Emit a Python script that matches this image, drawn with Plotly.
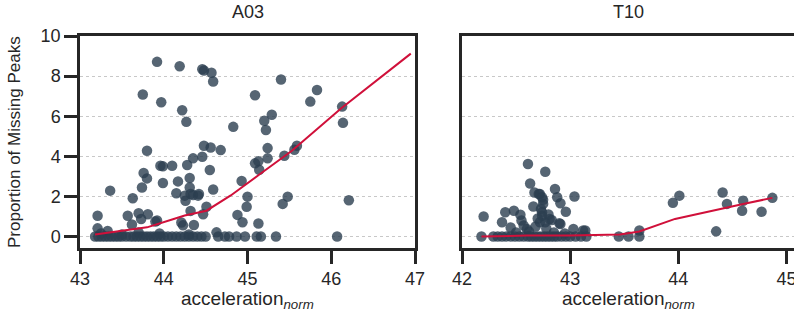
import plotly.graph_objects as go

# ---------------- data ----------------
a03_x = [43.92, 44.19, 44.46, 44.48, 44.57, 44.59, 43.75, 43.97, 44.22, 44.27, 44.83, 45.09,
         43.80, 44.48, 44.56, 44.68, 44.46, 44.35, 43.96, 43.99, 44.10, 44.28, 43.76, 43.80,
         43.99, 44.17, 44.31, 44.55, 44.59, 43.74, 43.36, 44.15, 44.31, 44.25, 44.35, 44.41,
         44.32, 44.42, 43.63, 44.26, 44.51, 44.32, 44.47, 43.21, 43.57, 43.70, 43.81, 43.73,
         43.90, 44.21, 44.23, 44.36, 43.62, 43.21, 43.33, 44.88, 44.94, 44.93, 45.00, 44.99,
         45.13, 45.09, 44.63, 45.40, 45.83, 45.75, 46.13, 46.14, 45.29, 45.20, 45.22, 45.24,
         45.59, 45.56, 45.44, 45.24, 45.13, 45.14, 45.48, 45.42, 46.21, 43.92,
         43.25, 43.50, 43.70, 43.95, 44.30,
         43.18, 43.22, 43.26, 43.30, 43.34, 43.38, 43.42, 43.46, 43.50, 43.55, 43.60, 43.64,
         43.68, 43.72, 43.76, 43.80, 43.84, 43.88, 43.92, 43.96, 44.00, 44.05, 44.10, 44.15,
         44.20, 44.25, 44.30, 44.35, 44.40, 44.45, 44.50, 44.65, 44.73, 44.78, 44.87, 44.97,
         45.11, 45.16, 45.34, 46.07]
a03_y = [8.71, 8.49, 8.34, 8.28, 8.17, 7.73, 7.08, 6.70, 6.30, 5.72, 5.47, 7.05,
         4.28, 4.53, 4.44, 4.31, 3.98, 3.90, 3.53, 3.50, 3.53, 3.57, 3.17, 2.90,
         2.67, 2.75, 2.92, 3.32, 2.35, 2.45, 2.29, 2.16, 2.45, 2.04, 2.07, 2.04,
         2.12, 2.12, 1.91, 1.79, 1.49, 1.28, 1.11, 1.04, 1.04, 1.16, 1.11, 0.88,
         0.75, 0.70, 0.56, 0.58, 0.60, 0.41, 0.28, 1.08, 0.71, 2.77, 1.99, 1.49,
         0.65, 3.65, 0.21, 7.83, 7.31, 6.73, 6.48, 5.67, 6.07, 5.77, 5.31, 4.41,
         4.53, 4.33, 4.03, 3.90, 3.75, 3.33, 1.99, 1.63, 1.81, 0.80,
         0.15, 0.10, 0.20, 0.15, 0.10,
         0, 0, 0, 0, 0, 0, 0, 0, 0, 0, 0, 0,
         0, 0, 0, 0, 0, 0, 0, 0, 0, 0, 0, 0,
         0, 0, 0, 0, 0, 0, 0, 0, 0, 0, 0, 0,
         0, 0, 0, 0]
a03_fit_x = [43.18, 43.50, 43.80, 44.10, 44.25, 44.51, 44.80, 45.15, 45.53, 46.12, 46.95]
a03_fit_y = [0.10, 0.27, 0.46, 0.85, 1.05, 1.29, 2.05, 3.12, 4.28, 6.40, 9.12]

t10_x = [42.18, 42.20, 42.61, 42.77, 42.63, 42.67, 42.72, 42.75, 42.86, 42.88, 42.91, 43.04,
         42.96, 42.40, 42.48, 42.54, 42.37, 42.55, 42.73, 42.74, 42.77, 42.83, 42.91, 43.03,
         43.14, 42.71, 42.74, 42.75, 42.74, 42.81, 42.72, 42.90, 42.57, 42.60, 43.12,
         42.68, 42.70, 42.78, 42.66, 42.80, 42.62, 42.85, 42.50, 42.45, 42.95,
         42.29, 42.33, 42.37, 42.41, 42.45, 42.49, 42.53, 42.57, 42.61, 42.64, 42.67, 42.70,
         42.73, 42.76, 42.79, 42.82, 42.85, 42.88, 42.92, 42.96, 43.00, 43.05, 43.10, 43.15,
         43.45, 43.54, 43.64, 43.64, 43.95, 44.01, 44.35, 44.41, 44.45, 44.60, 44.59, 44.77,
         44.87]
t10_y = [0, 1.00, 3.62, 3.23, 2.65, 2.20, 2.12, 1.83, 2.37, 1.96, 1.66, 2.00,
         1.24, 1.21, 1.29, 1.09, 0.71, 0.80, 1.38, 1.04, 0.71, 0.83, 0.63, 0.38,
         0.30, 2.12, 1.96, 1.63, 1.21, 0.88, 0.71, 0.66, 0.55, 0.38, 0.30,
         0.50, 0.90, 0.40, 1.50, 1.10, 0.25, 0.20, 0.20, 0.45, 0.15,
         0, 0, 0, 0, 0, 0, 0, 0, 0, 0, 0, 0,
         0, 0, 0, 0, 0, 0, 0, 0, 0, 0, 0, 0,
         0, 0, 0, 0.30, 1.68, 2.04, 0.26, 2.20, 1.63, 1.79, 1.29, 1.24,
         1.93]
t10_fit_x = [42.18, 42.60, 43.00, 43.46, 43.64, 43.97, 44.60, 44.87]
t10_fit_y = [0.00, 0.05, 0.05, 0.10, 0.25, 0.88, 1.62, 1.93]

panel_titles = ["A03", "T10"]
a03_ticks = [43, 44, 45, 46, 47]
t10_ticks = [42, 43, 44, 45]
y_ticks = [0, 2, 4, 6, 8, 10]

# ---------------- figure ----------------
FONT = "Liberation Sans, Arial, sans-serif"
DARK = "#262626"
PT = "rgba(44,62,80,0.8)"
LINE = "#d0103a"

fig = go.Figure()
fig.add_trace(go.Scatter(x=a03_x, y=a03_y, mode="markers",
                         marker=dict(size=10.5, color=PT, line=dict(width=0)),
                         xaxis="x", yaxis="y", showlegend=False))
fig.add_trace(go.Scatter(x=a03_fit_x, y=a03_fit_y, mode="lines",
                         line=dict(color=LINE, width=2),
                         xaxis="x", yaxis="y", showlegend=False))
fig.add_trace(go.Scatter(x=t10_x, y=t10_y, mode="markers",
                         marker=dict(size=10.5, color=PT, line=dict(width=0)),
                         xaxis="x2", yaxis="y2", showlegend=False))
fig.add_trace(go.Scatter(x=t10_fit_x, y=t10_fit_y, mode="lines",
                         line=dict(color=LINE, width=2),
                         xaxis="x2", yaxis="y2", showlegend=False))

W, H = 794, 321
L, R, T, B = 80, 0, 36, 73
pw = W - L - R
ph = H - T - B
d1 = [0, (415 - L) / pw]
d2 = [(462 - L) / pw, 1.0]

axis_common = dict(showline=True, linewidth=2.5, linecolor=DARK,
                   ticks="outside", ticklen=13, tickwidth=2.5, tickcolor=DARK,
                   tickfont=dict(family=FONT, size=18, color=DARK),
                   zeroline=False, automargin=False, ticklabeloverflow="allow")

fig.update_layout(
    width=W, height=H,
    margin=dict(l=L, r=R, t=T, b=B, autoexpand=False),
    paper_bgcolor="white", plot_bgcolor="white",
    font=dict(family=FONT, color=DARK),
    xaxis=dict(domain=d1, range=[43, 47], tickvals=a03_ticks, showgrid=False,
               mirror=True, anchor="y", **axis_common),
    yaxis=dict(domain=[0, 1], range=[-0.57, 10], tickvals=y_ticks,
               showgrid=True, gridcolor="#c8c8c8", gridwidth=1.3, griddash="dot",
               mirror=True, anchor="x", **axis_common),
    xaxis2=dict(domain=d2, range=[42, 45.07], tickvals=t10_ticks, showgrid=False,
                mirror=True, anchor="y2", **axis_common),
    yaxis2=dict(domain=[0, 1], range=[-0.57, 10], tickvals=y_ticks,
                showgrid=True, gridcolor="#c8c8c8", gridwidth=1.3, griddash="dot",
                showline=True, linewidth=2.5, linecolor=DARK, mirror=False,
                ticks="", showticklabels=False, zeroline=False, anchor="x2",
                automargin=False),
)

ann = []
for title, dom in zip(panel_titles, [d1, d2]):
    cx = (dom[0] + dom[1]) / 2
    ann.append(dict(text=title, x=cx, y=1 + (T - 12) / ph, xref="paper", yref="paper",
                    xanchor="center", yanchor="middle", showarrow=False,
                    font=dict(family=FONT, size=18, color=DARK)))
    ann.append(dict(text="acceleration<sub><i>norm</i></sub>", x=cx,
                    y=-(300 - (H - B)) / ph, xref="paper", yref="paper",
                    xanchor="center", yanchor="middle", showarrow=False,
                    font=dict(family=FONT, size=19, color=DARK)))
ann.append(dict(text="Proportion of Missing Peaks", x=-(L - 14) / pw, y=0.5,
                xref="paper", yref="paper", textangle=-90,
                xanchor="center", yanchor="middle", showarrow=False,
                font=dict(family=FONT, size=17, color=DARK)))
fig.update_layout(annotations=ann)

fig.write_html("out.html")
